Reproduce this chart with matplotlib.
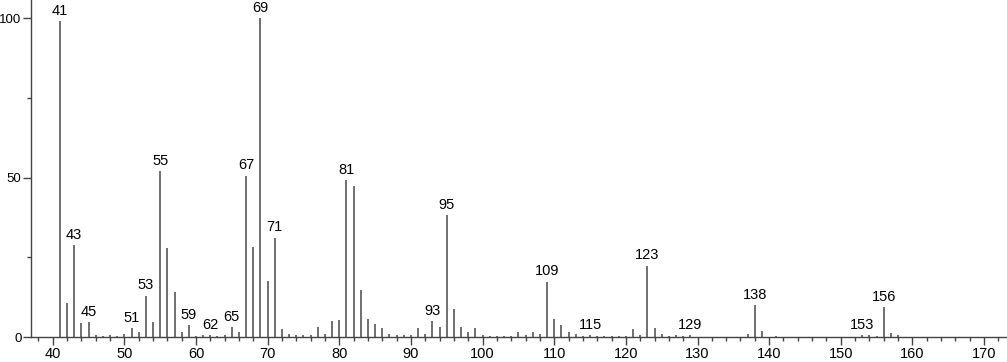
import matplotlib
matplotlib.use("Agg")
import matplotlib.pyplot as plt
from matplotlib.ticker import MultipleLocator

plt.rcParams['font.family'] = ['Liberation Sans', 'DejaVu Sans']

# m/z and relative abundance
mz = [41, 42, 43, 44, 45, 46, 47, 48, 49, 50, 51, 52, 53, 54, 55, 56, 57, 58, 59,
      60, 61, 62, 63, 64, 65, 66, 67, 68, 69, 70, 71, 72, 73, 74, 75, 76, 77, 78,
      79, 80, 81, 82, 83, 84, 85, 86, 87, 88, 89, 90, 91, 92, 93, 94, 95, 96, 97,
      98, 99, 100, 101, 102, 103, 104, 105, 106, 107, 108, 109, 110, 111, 112,
      113, 114, 115, 116, 117, 118, 119, 120, 121, 122, 123, 124, 125, 126, 127,
      128, 129, 137, 138, 139, 141, 153, 154, 155, 156, 157, 158]
abundance = [99, 10.7, 28.7, 4.5, 4.7, 0.5, 0.4, 0.5, 0.4, 0.8, 2.9, 1.7, 13.0, 4.7,
             52.1, 27.9, 14.1, 1.7, 3.8, 0.3, 0.5, 0.6, 0.3, 0.5, 3.2, 1.7, 50.6,
             28.2, 100, 17.7, 31.2, 2.4, 0.8, 0.5, 0.5, 0.5, 3.2, 0.9, 4.9, 5.2,
             49.2, 47.4, 14.6, 5.8, 4.0, 2.9, 0.8, 0.5, 0.5, 0.5, 2.7, 0.9, 4.9,
             3.2, 38.3, 8.8, 3.2, 1.6, 2.7, 0.5, 0.3, 0.4, 0.3, 0.4, 1.6, 0.5, 1.7,
             0.8, 17.4, 5.7, 3.7, 1.7, 0.8, 0.4, 0.5, 0.4, 0.3, 0.4, 0.3, 0.3, 2.4,
             0.5, 22.4, 2.7, 0.8, 0.3, 0.5, 0.3, 0.5, 0.8, 10.0, 1.9, 0.4, 0.5, 0.5,
             0.3, 9.4, 1.4, 0.5]
labeled = [41, 43, 45, 51, 53, 55, 59, 62, 65, 67, 69, 71, 81, 93, 95, 109, 115,
           123, 129, 138, 153, 156]

fig = plt.figure(figsize=(10.07, 3.62), dpi=100)
ax = fig.add_axes([30.5 / 1007, 25 / 362, 1 - 30.5 / 1007, 1 - 25 / 362])

ax.vlines(mz, 0, abundance, color='#707070', linewidth=1.4)

for m, a in zip(mz, abundance):
    if m in labeled:
        ax.text(m, a + 1.0, str(m), ha='center', va='bottom', fontsize=10.5)

ax.set_xlim(36.9, 173.2)
ax.set_ylim(0, 105.7)
ax.xaxis.set_major_locator(MultipleLocator(10))
ax.xaxis.set_minor_locator(MultipleLocator(2))
ax.set_yticks([0, 50, 100])
ax.yaxis.set_minor_locator(MultipleLocator(25))

for side in ['top', 'right']:
    ax.spines[side].set_visible(False)
for side in ['left', 'bottom']:
    ax.spines[side].set_color('#444444')
    ax.spines[side].set_linewidth(1.0)

ax.tick_params(which='major', length=6, width=1.0, color='#444444', pad=1)
ax.tick_params(which='minor', length=3, width=1.0, color='#444444')
ax.tick_params(axis='x', labelsize=10.5)
ax.tick_params(axis='y', labelsize=9.5, pad=0.5)

fig.savefig('out.png', dpi=100)
